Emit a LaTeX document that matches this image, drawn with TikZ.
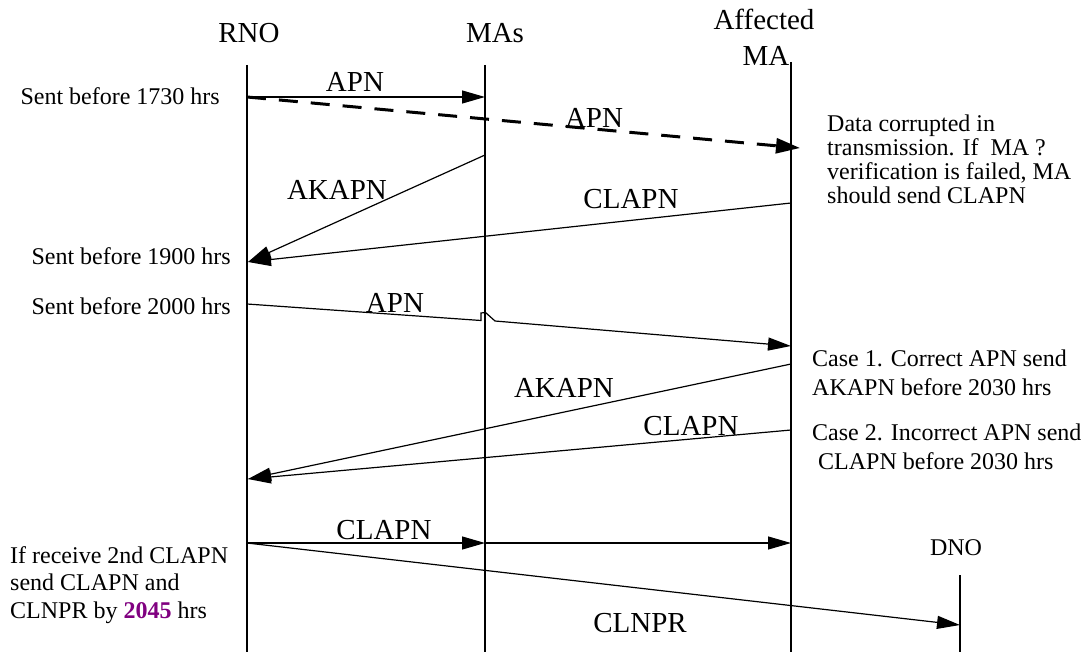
\documentclass[tikz,border=0pt]{standalone}
\usepackage{fontspec}
\setmainfont{Liberation Serif}
\usetikzlibrary{arrows.meta}
\definecolor{hilite}{RGB}{128,0,128}
\begin{document}
\begin{tikzpicture}[x=1pt,y=-1pt,
  life/.style={line width=1.2pt},
  msg/.style={line width=1.2pt,-{Triangle[length=23pt,width=13pt]}},
  lost/.style={line width=3pt,dash pattern=on 19pt off 13pt,-{Triangle[length=24pt,width=15pt]}},
  big/.style={font=\fontsize{29}{33}\selectfont, inner sep=0pt, anchor=base},
  note/.style={font=\fontsize{24}{24.3}\selectfont, inner sep=0pt, align=left, anchor=base west},
  side/.style={font=\fontsize{24}{24}\selectfont, inner sep=0pt, anchor=base east},
]
\useasboundingbox (0,0) rectangle (1083,655);

% lifeline headers
\node[big] (hRNO) at (249,43) {RNO};
\node[big] (hMAs) at (495,43) {MAs};
\node[big] (hAff) at (764,30) {Affected};
\node[big] (hMA)  at (766,66) {MA};
\node[font=\fontsize{24}{24}\selectfont, inner sep=0pt, anchor=base] (hDNO) at (956,555) {DNO};

% lifelines
\coordinate (rnoT) at (247,65);  \coordinate (rnoB) at (247,652);
\coordinate (masT) at (485,65);  \coordinate (masB) at (485,652);
\coordinate (affT) at (791,62);  \coordinate (affB) at (791,652);
\coordinate (dnoT) at (960,575); \coordinate (dnoB) at (960,652);
\draw[life] (rnoT) -- (rnoB);
\draw[life] (masT) -- (masB);
\draw[life] (affT) -- (affB);
\draw[life] (dnoT) -- (dnoB);

% message end points on the lifelines
\coordinate (r1) at (247,97);   \coordinate (m1) at (485,97);
\coordinate (a1) at (800,148);
\coordinate (m2) at (485,155);  \coordinate (r2) at (248,262);
\coordinate (a2) at (791,203);
\coordinate (r3) at (247,304);  \coordinate (a3) at (791,346);
\coordinate (a4) at (791,364);  \coordinate (r4) at (248,479);
\coordinate (a5) at (791,430);
\coordinate (r5) at (247,543);  \coordinate (m5) at (485,543);
\coordinate (a6) at (791,543);  \coordinate (d6) at (960,625);

% first APN, one copy corrupted on the way
\draw[msg] (r1) -- (m1);
\node[big] (lAPN1) at (355,92) {APN};
\draw[lost] (r1) -- (a1);
\node[big] (lAPN2) at (594,128) {APN};

% replies before 1900
\draw[msg] (m2) -- (r2);
\node[big] (lAK1) at (337,200) {AKAPN};
\draw[msg] (a2) -- (r2);
\node[big] (lCL1) at (631,208) {CLAPN};

% resent APN, hopping over the MAs lifeline
\draw[msg] (r3) -- (481,320.5) -- (481,313) -- (485.5,312.5) -- (495,321) -- (a3);
\node[big] (lAPN3) at (395,312) {APN};

% replies before 2030
\draw[msg] (a4) -- (r4);
\node[big] (lAK2) at (564,397) {AKAPN};
\draw[msg] (a5) -- (r4);
\node[big] (lCL2) at (691,435) {CLAPN};

% final CLAPN and CLNPR
\draw[msg] (r5) -- (m5);
\draw[msg] (m5) -- (a6);
\node[big] (lCL3) at (384,539) {CLAPN};
\draw[msg] (r5) -- (d6);
\node[big] (lCLN) at (640,632) {CLNPR};

% timing notes (multi-line nodes are placed by their last baseline)
\node[side] (t1730) at (220,105) {Sent before 1730 hrs};
\node[side] (t1900) at (231,264) {Sent before 1900 hrs};
\node[side] (t2000) at (231,314) {Sent before 2000 hrs};

\node[note] (nData) at (827,204) {Data corrupted in\\transmission. If \ MA ?\\verification is failed, MA\\should send CLAPN};
\node[note, font=\fontsize{24}{29}\selectfont] (nCase1) at (812,395) {Case 1. Correct APN send\\AKAPN before 2030 hrs};
\node[note, font=\fontsize{24}{29}\selectfont] (nCase2) at (812,469) {Case 2. Incorrect APN send\\\hspace*{6pt}CLAPN before 2030 hrs};
\node[note, font=\fontsize{24}{27.5}\selectfont] (nLast) at (10,618) {If receive 2nd CLAPN\\send CLAPN and\\CLNPR by \textbf{\textcolor{hilite}{2045}} hrs};
\end{tikzpicture}
\end{document}
